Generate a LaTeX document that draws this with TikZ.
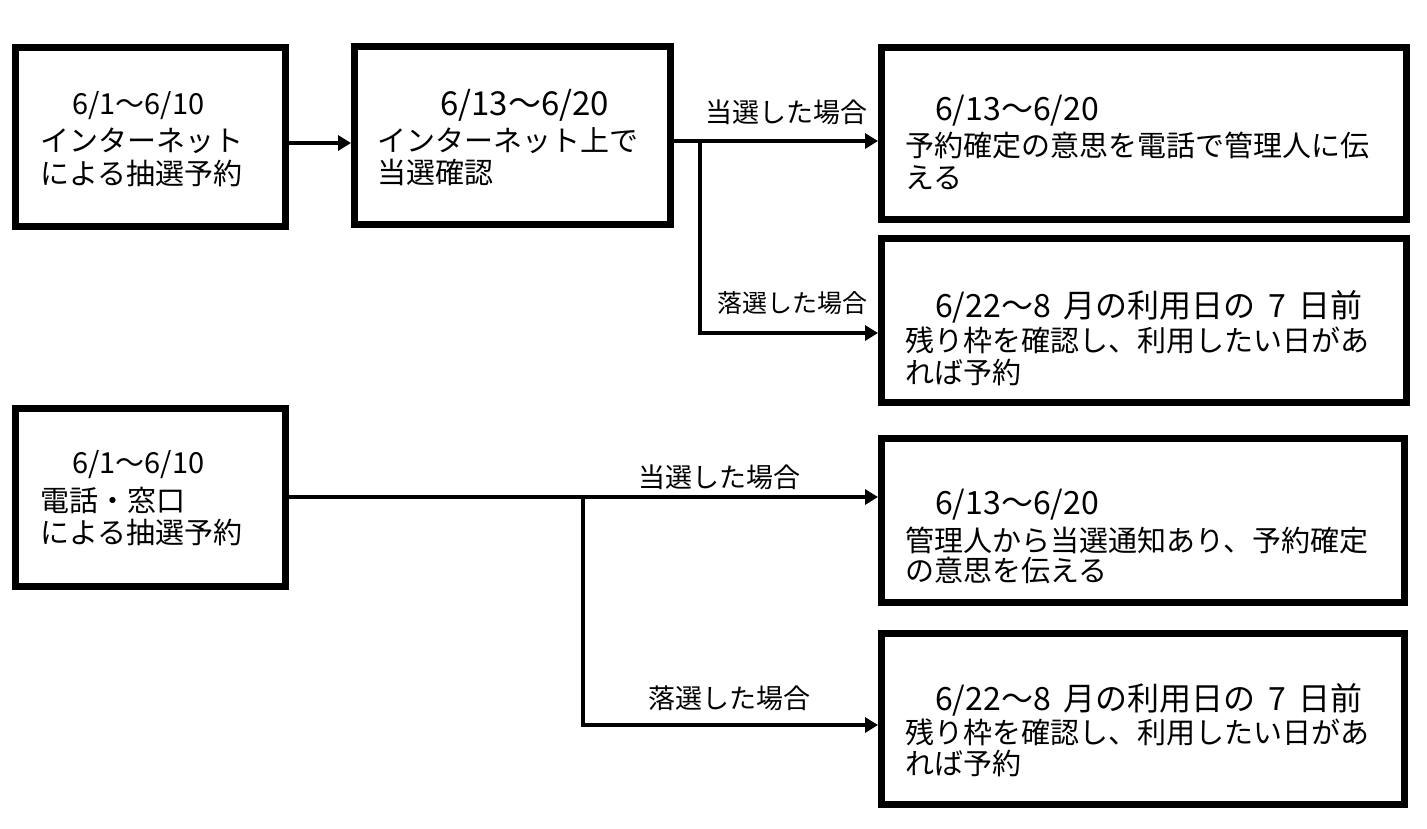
\documentclass[tikz,border=0pt]{standalone}
\usepackage{fontspec}
\newfontfamily\jp{Noto Sans CJK JP}
\usetikzlibrary{arrows.meta}
\newcommand{\hs}{\hspace{0.4em}}
\tikzset{
  box/.style={draw=black, line width=7pt, rectangle, inner sep=0pt, fill=white},
  txt/.style={font=\jp\fontsize{29pt}{34pt}\selectfont, anchor=base west, inner sep=0pt},
  big/.style={txt, font=\jp\fontsize{32pt}{36pt}\selectfont},
  bigger/.style={txt, font=\jp\fontsize{33pt}{37pt}\selectfont},
  lbl/.style={font=\jp\fontsize{27pt}{30pt}\selectfont, anchor=base west, inner sep=0pt},
  conn/.style={draw=black, line width=4.5pt},
  arr/.style={conn, -{Triangle[length=13pt, width=15pt]}}
}
\begin{document}
\begin{tikzpicture}[x=1pt, y=-1pt]
\useasboundingbox (0,0) rectangle (1427,828);
% boxes (centre line of border)
\node[box, minimum width=270pt, minimum height=179pt] (A) at (150.5,137) {};
\node[box, minimum width=316pt, minimum height=178pt] (B) at (512.5,135.5) {};
\node[box, minimum width=525pt, minimum height=172pt] (C) at (1144,133.5) {};
\node[box, minimum width=525pt, minimum height=164pt] (D) at (1144,320.5) {};
\node[box, minimum width=270pt, minimum height=178pt] (E) at (150.5,497.5) {};
\node[box, minimum width=523pt, minimum height=164pt] (F) at (1143,520.5) {};
\node[box, minimum width=523pt, minimum height=171pt] (G) at (1143,719) {};
% texts
\node[txt] (a1) at (72,114) {6/1～6/10};
\node[txt] (a2) at (40,151) {インターネット};
\node[txt] (a3) at (40,184) {による抽選予約};
\node[bigger] (b1) at (440,115) {6/13～6/20};
\node[txt] (b2) at (377,151) {インターネット上で};
\node[txt] (b3) at (377,183) {当選確認};
\node[big] (c1) at (935,120) {6/13～6/20};
\node[txt] (c2) at (905,156) {予約確定の意思を電話で管理人に伝};
\node[txt] (c3) at (905,188) {える};
\node[big] (d1) at (935,317) {6/22～8\hs 月の利用日の\hs 7\hs 日前};
\node[txt] (d2) at (905,351) {残り枠を確認し、利用したい日があ};
\node[txt] (d3) at (905,383) {れば予約};
\node[txt] (e1) at (72,473) {6/1～6/10};
\node[txt] (e2) at (40,511) {電話・窓口};
\node[txt] (e3) at (40,543) {による抽選予約};
\node[big] (f1) at (935,514) {6/13～6/20};
\node[txt] (f2) at (905,551) {管理人から当選通知あり、予約確定};
\node[txt] (f3) at (905,581) {の意思を伝える};
\node[big] (g1) at (935,710) {6/22～8\hs 月の利用日の\hs 7\hs 日前};
\node[txt] (g2) at (905,743) {残り枠を確認し、利用したい日があ};
\node[txt] (g3) at (905,774) {れば予約};
% labels
\node[lbl] (l1) at (705,122) {当選した場合};
\node[lbl, font=\jp\fontsize{25pt}{28pt}\selectfont, anchor=base east] (l2) at (868,312) {落選した場合};
\node[lbl] (l3) at (638,487) {当選した場合};
\node[lbl] (l4) at (648,708) {落選した場合};
% connectors
\coordinate (h0) at (0,143);
\draw[arr] (A.east |- h0) -- (B.west |- h0);
\coordinate (j1) at (700,141);
\coordinate (k1) at (700,333);
\draw[arr] (B.east |- j1) -- (C.west |- j1);
\draw[arr] (j1) -- (k1) -- (D.west |- k1);
\coordinate (j2) at (583,497);
\coordinate (k2) at (583,725);
\draw[arr] (E.east |- j2) -- (F.west |- j2);
\draw[arr] (j2) -- (k2) -- (G.west |- k2);
\end{tikzpicture}
\end{document}
